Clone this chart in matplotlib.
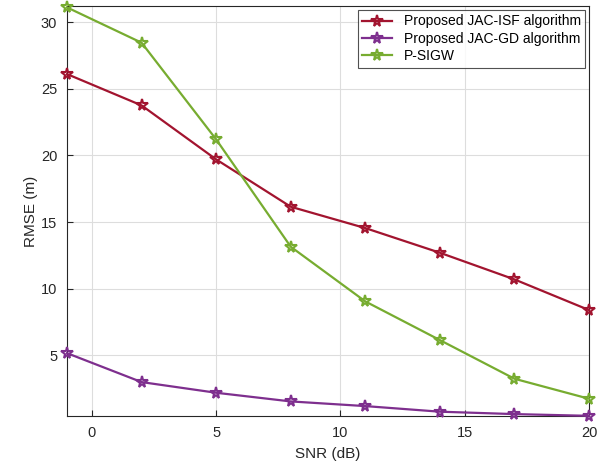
import matplotlib
matplotlib.use('Agg')
import matplotlib.pyplot as plt

plt.rcParams['font.family'] = ['Liberation Sans', 'DejaVu Sans']

snr = [-1, 2, 5, 8, 11, 14, 17, 20]
rmse_isf = [26.1, 23.75, 19.7, 16.15, 14.55, 12.7, 10.7, 8.4]
rmse_gd = [5.17, 3.0, 2.2, 1.55, 1.2, 0.78, 0.6, 0.47]
rmse_psigw = [31.1, 28.45, 21.2, 13.15, 9.05, 6.15, 3.25, 1.75]
labels = ['Proposed JAC-ISF algorithm', 'Proposed JAC-GD algorithm', 'P-SIGW']
colors = ['#A2142F', '#7E2F8E', '#77AC30']

fig = plt.figure(figsize=(6.12, 4.67), dpi=100)
ax = fig.add_axes([0.1095, 0.109, 0.853, 0.878])

for y, lab, c in zip([rmse_isf, rmse_gd, rmse_psigw], labels, colors):
    ax.plot(snr, y, '-*', color=c, lw=1.6, ms=8.5, mfc='none', mew=1.5, label=lab, clip_on=False, zorder=3)

ax.set_xlim(-1, 20)
ax.set_ylim(0.45, 31.2)
ax.set_xticks([0, 5, 10, 15, 20])
ax.set_yticks([5, 10, 15, 20, 25, 30])
ax.grid(True, color='#dddddd', lw=0.8)
ax.tick_params(direction='in', labelsize=10.5, colors='#262626', length=4, pad=7)
for s in ax.spines.values():
    s.set_color('#262626')
    s.set_linewidth(0.8)
ax.set_xlabel('SNR (dB)', fontsize=11, color='#262626', labelpad=5)
ax.set_ylabel('RMSE (m)', fontsize=11, color='#262626', labelpad=2)

leg = ax.legend(loc='upper right', fontsize=10, fancybox=False, edgecolor='#262626',
                borderaxespad=0.3, handlelength=2.2, labelspacing=0.25, borderpad=0.3)
leg.get_frame().set_linewidth(0.8)

plt.savefig('out.png', dpi=100)
